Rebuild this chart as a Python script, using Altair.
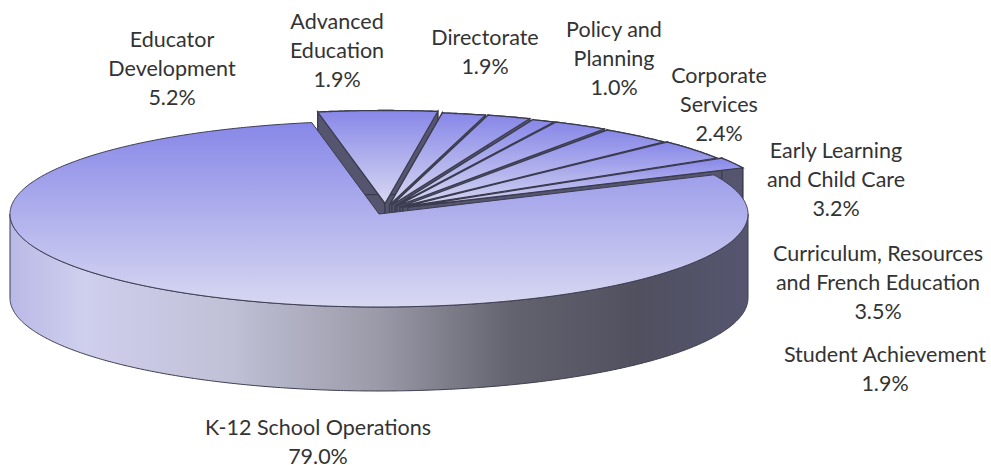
import math
import altair as alt

# Budget shares, clockwise from the top of the disc; the last slice stays in place.
sections = ["Educator Development", "Advanced Education", "Directorate", "Policy and Planning",
            "Corporate Services", "Early Learning and Child Care",
            "Curriculum, Resources and French Education", "Student Achievement",
            "K-12 School Operations"]
shares = [5.2, 1.9, 1.9, 1.0, 2.4, 3.2, 3.5, 1.9, 79.0]

# Label line breaks, kept apart from the section names above.
label_lines = [["Educator", "Development"], ["Advanced", "Education"], ["Directorate"],
               ["Policy and", "Planning"], ["Corporate", "Services"],
               ["Early Learning", "and Child Care"],
               ["Curriculum, Resources", "and French Education"],
               ["Student Achievement"], ["K-12 School Operations"]]
label_centre_x = [172, 337, 485, 614, 719, 836, 878, 885, 318]
label_top_y = [41, 23, 39, 31, 77, 152, 255, 356, 429]

# Disc geometry in pixels.
RX, RY, CX, CY, DEPTH = 369.0, 93.0, 379.0, 214.0, 84.0
START_DEG = -10.5
pull_x = [6, 10.5, 13, 16, 18, 21, 24, 29]
pull_y = [-10.5, -9, -9, -8, -8, -7, -7, -7]

TILT = RY / RX
EDGE = "#3c3c50"
WALL = "#55556f"
PROJECTION = alt.Projection(type="identity", scale=RX, translate=[CX, CY])

face_fill = alt.Gradient(
    gradient="linear", x1=0, y1=0, x2=0, y2=1,
    stops=[alt.GradientStop(offset=0, color="#8787e8"),
           alt.GradientStop(offset=0.5, color="#b0b0ed"),
           alt.GradientStop(offset=1, color="#d8d8f2")])
side_fill = alt.Gradient(
    gradient="linear", x1=0, y1=0, x2=1, y2=0,
    stops=[alt.GradientStop(offset=0, color="#b9b9e6"),
           alt.GradientStop(offset=0.1, color="#cfcfee"),
           alt.GradientStop(offset=0.3, color="#c0c0d6"),
           alt.GradientStop(offset=0.5, color="#9a9aa8"),
           alt.GradientStop(offset=0.68, color="#63636f"),
           alt.GradientStop(offset=0.85, color="#50505f"),
           alt.GradientStop(offset=1, color="#555570")])


def rim(deg):
    t = math.radians(deg)
    return [math.sin(t), -TILT * math.cos(t)]


def arc(a, b):
    n = max(2, int(abs(b - a) * 2))
    return [rim(a + (b - a) * i / n) for i in range(n + 1)]


def moved(points, dx=0.0, dy=0.0):
    return [[p[0] + dx / RX, p[1] + dy / RX] for p in points]


def polygon(points):
    return {"type": "Feature", "properties": {},
            "geometry": {"type": "Polygon", "coordinates": [points + [points[0]]]}}


def shape_layer(features, fill, stroke_width=1.0):
    return alt.Chart(alt.Data(values=features)).mark_geoshape(
        fill=fill, stroke=EDGE, strokeWidth=stroke_width
    ).project(**PROJECTION.to_dict())


total = sum(shares)
bounds = [START_DEG]
for s in shares:
    bounds.append(bounds[-1] + 360 * s / total)

layers = []
# Pulled-out slices, back to front: cut walls and rim wall first, then the top face.
for i in range(len(shares) - 1):
    a, b = bounds[i], bounds[i + 1]
    top = moved([[0.0, 0.0]] + arc(a, b), pull_x[i], pull_y[i])
    apex, first, last = top[0], top[1], top[-1]
    outer = top[1:]
    low = lambda pts: moved(pts, 0, DEPTH)
    walls = [polygon([apex, first] + low([first]) + low([apex])),
             polygon([apex, last] + low([last]) + low([apex])),
             polygon(outer + low(outer)[::-1])]
    layers.append(shape_layer(walls, WALL, 1.3))
    layers.append(shape_layer([polygon(top)], face_fill, 1.3))

# The large slice: outer side wall in front, then its top face over everything behind it.
a, b = bounds[-2], bounds[-1]
front = arc(90, 270)
layers.append(shape_layer([polygon(front + moved(front, 0, DEPTH)[::-1])], side_fill))
layers.append(shape_layer([polygon([[0.0, 0.0]] + arc(a, b))], face_fill))

# Labels: name lines followed by the share.
LINE_STEP = 28.8
for lines, share, x, y in zip(label_lines, shares, label_centre_x, label_top_y):
    for k, line in enumerate(lines + [f"{share:.1f}%"]):
        layers.append(
            alt.Chart(alt.Data(values=[{"t": line}])).mark_text(
                font="Lato", fontSize=21.5, color="#333333", align="center", baseline="middle"
            ).encode(x=alt.value(x), y=alt.value(y + k * LINE_STEP), text="t:N")
        )

chart = alt.layer(*layers).properties(
    width=991, height=465, padding=0, autosize="none", background="white"
).configure_view(stroke=None)

chart.save("out.html", embed_options={"renderer": "svg", "actions": False})
